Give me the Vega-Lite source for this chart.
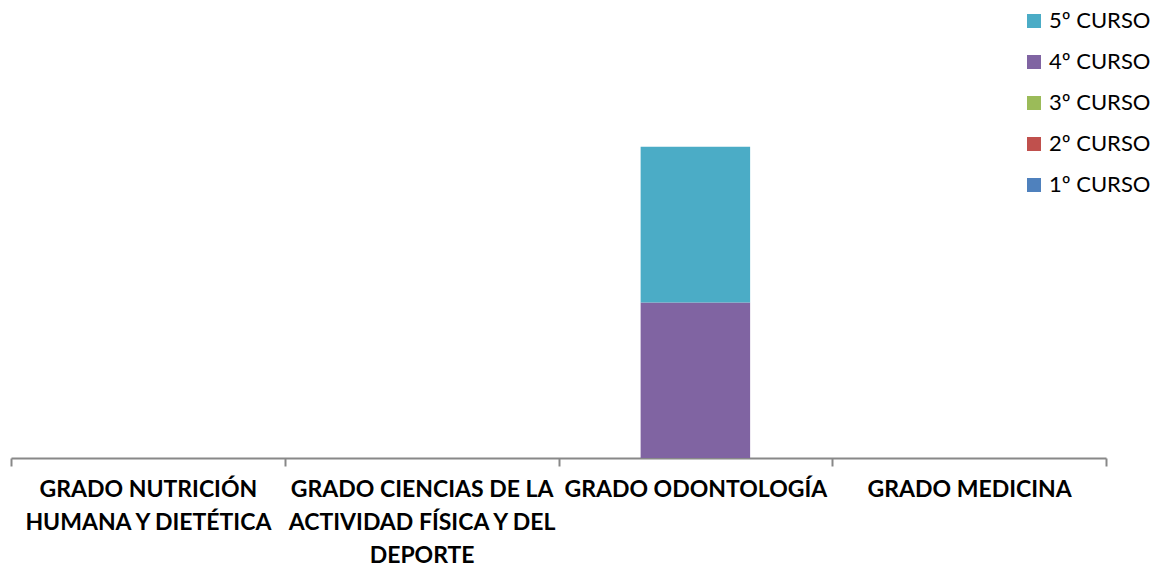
{
  "$schema": "https://vega.github.io/schema/vega-lite/v6.json",
  "width": 1095,
  "height": 389,
  "autosize": {"type": "none"},
  "padding": {"left": 11, "top": 69, "right": 51, "bottom": 109},
  "background": "white",
  "config": {"view": {"stroke": null}, "font": "Lato"},
  "data": {
    "values": [
      {"grado": "GRADO NUTRICIÓN HUMANA Y DIETÉTICA", "curso": "1º CURSO", "valor": 0},
      {"grado": "GRADO NUTRICIÓN HUMANA Y DIETÉTICA", "curso": "2º CURSO", "valor": 0},
      {"grado": "GRADO NUTRICIÓN HUMANA Y DIETÉTICA", "curso": "3º CURSO", "valor": 0},
      {"grado": "GRADO NUTRICIÓN HUMANA Y DIETÉTICA", "curso": "4º CURSO", "valor": 0},
      {"grado": "GRADO NUTRICIÓN HUMANA Y DIETÉTICA", "curso": "5º CURSO", "valor": 0},
      {"grado": "GRADO CIENCIAS DE LA ACTIVIDAD FÍSICA Y DEL DEPORTE", "curso": "1º CURSO", "valor": 0},
      {"grado": "GRADO CIENCIAS DE LA ACTIVIDAD FÍSICA Y DEL DEPORTE", "curso": "2º CURSO", "valor": 0},
      {"grado": "GRADO CIENCIAS DE LA ACTIVIDAD FÍSICA Y DEL DEPORTE", "curso": "3º CURSO", "valor": 0},
      {"grado": "GRADO CIENCIAS DE LA ACTIVIDAD FÍSICA Y DEL DEPORTE", "curso": "4º CURSO", "valor": 0},
      {"grado": "GRADO CIENCIAS DE LA ACTIVIDAD FÍSICA Y DEL DEPORTE", "curso": "5º CURSO", "valor": 0},
      {"grado": "GRADO ODONTOLOGÍA", "curso": "1º CURSO", "valor": 0},
      {"grado": "GRADO ODONTOLOGÍA", "curso": "2º CURSO", "valor": 0},
      {"grado": "GRADO ODONTOLOGÍA", "curso": "3º CURSO", "valor": 0},
      {"grado": "GRADO ODONTOLOGÍA", "curso": "4º CURSO", "valor": 1},
      {"grado": "GRADO ODONTOLOGÍA", "curso": "5º CURSO", "valor": 1},
      {"grado": "GRADO MEDICINA", "curso": "1º CURSO", "valor": 0},
      {"grado": "GRADO MEDICINA", "curso": "2º CURSO", "valor": 0},
      {"grado": "GRADO MEDICINA", "curso": "3º CURSO", "valor": 0},
      {"grado": "GRADO MEDICINA", "curso": "4º CURSO", "valor": 0},
      {"grado": "GRADO MEDICINA", "curso": "5º CURSO", "valor": 0}
    ]
  },
  "mark": {"type": "bar", "width": {"band": 0.4}},
  "encoding": {
    "x": {
      "field": "grado",
      "type": "nominal",
      "sort": null,
      "scale": {"paddingInner": 0, "paddingOuter": 0},
      "axis": {
        "title": null,
        "labelAngle": 0,
        "tickBand": "extent",
        "domainColor": "#888888",
        "domainWidth": 2,
        "tickColor": "#888888",
        "tickWidth": 2,
        "tickSize": 8,
        "labelFont": "Lato",
        "labelFontWeight": "bold",
        "labelFontSize": 23,
        "labelColor": "#000000",
        "labelPadding": 12,
        "labelLineHeight": 33,
        "labelLimit": 400,
        "labelExpr": "datum.value == 'GRADO NUTRICIÓN HUMANA Y DIETÉTICA' ? ['GRADO NUTRICIÓN', 'HUMANA Y DIETÉTICA'] : datum.value == 'GRADO CIENCIAS DE LA ACTIVIDAD FÍSICA Y DEL DEPORTE' ? ['GRADO CIENCIAS DE LA', 'ACTIVIDAD FÍSICA Y DEL', 'DEPORTE'] : datum.value"
      }
    },
    "y": {
      "field": "valor",
      "type": "quantitative",
      "aggregate": "sum",
      "stack": "zero",
      "scale": {"domain": [0, 2.5], "nice": false},
      "axis": null
    },
    "color": {
      "field": "curso",
      "type": "nominal",
      "scale": {
        "domain": ["1º CURSO", "2º CURSO", "3º CURSO", "4º CURSO", "5º CURSO"],
        "range": ["#4F81BD", "#C0504D", "#9BBB59", "#8064A2", "#4BACC6"]
      },
      "legend": {
        "title": null,
        "orient": "none",
        "legendX": 1012,
        "legendY": -59,
        "values": ["5º CURSO", "4º CURSO", "3º CURSO", "2º CURSO", "1º CURSO"],
        "symbolType": "square",
        "symbolSize": 196,
        "symbolStrokeWidth": 0,
        "labelFont": "Lato",
        "labelFontSize": 22,
        "labelColor": "#000000",
        "labelOffset": 4,
        "rowPadding": 19
      }
    },
    "order": {"field": "curso", "sort": "ascending"}
  }
}
